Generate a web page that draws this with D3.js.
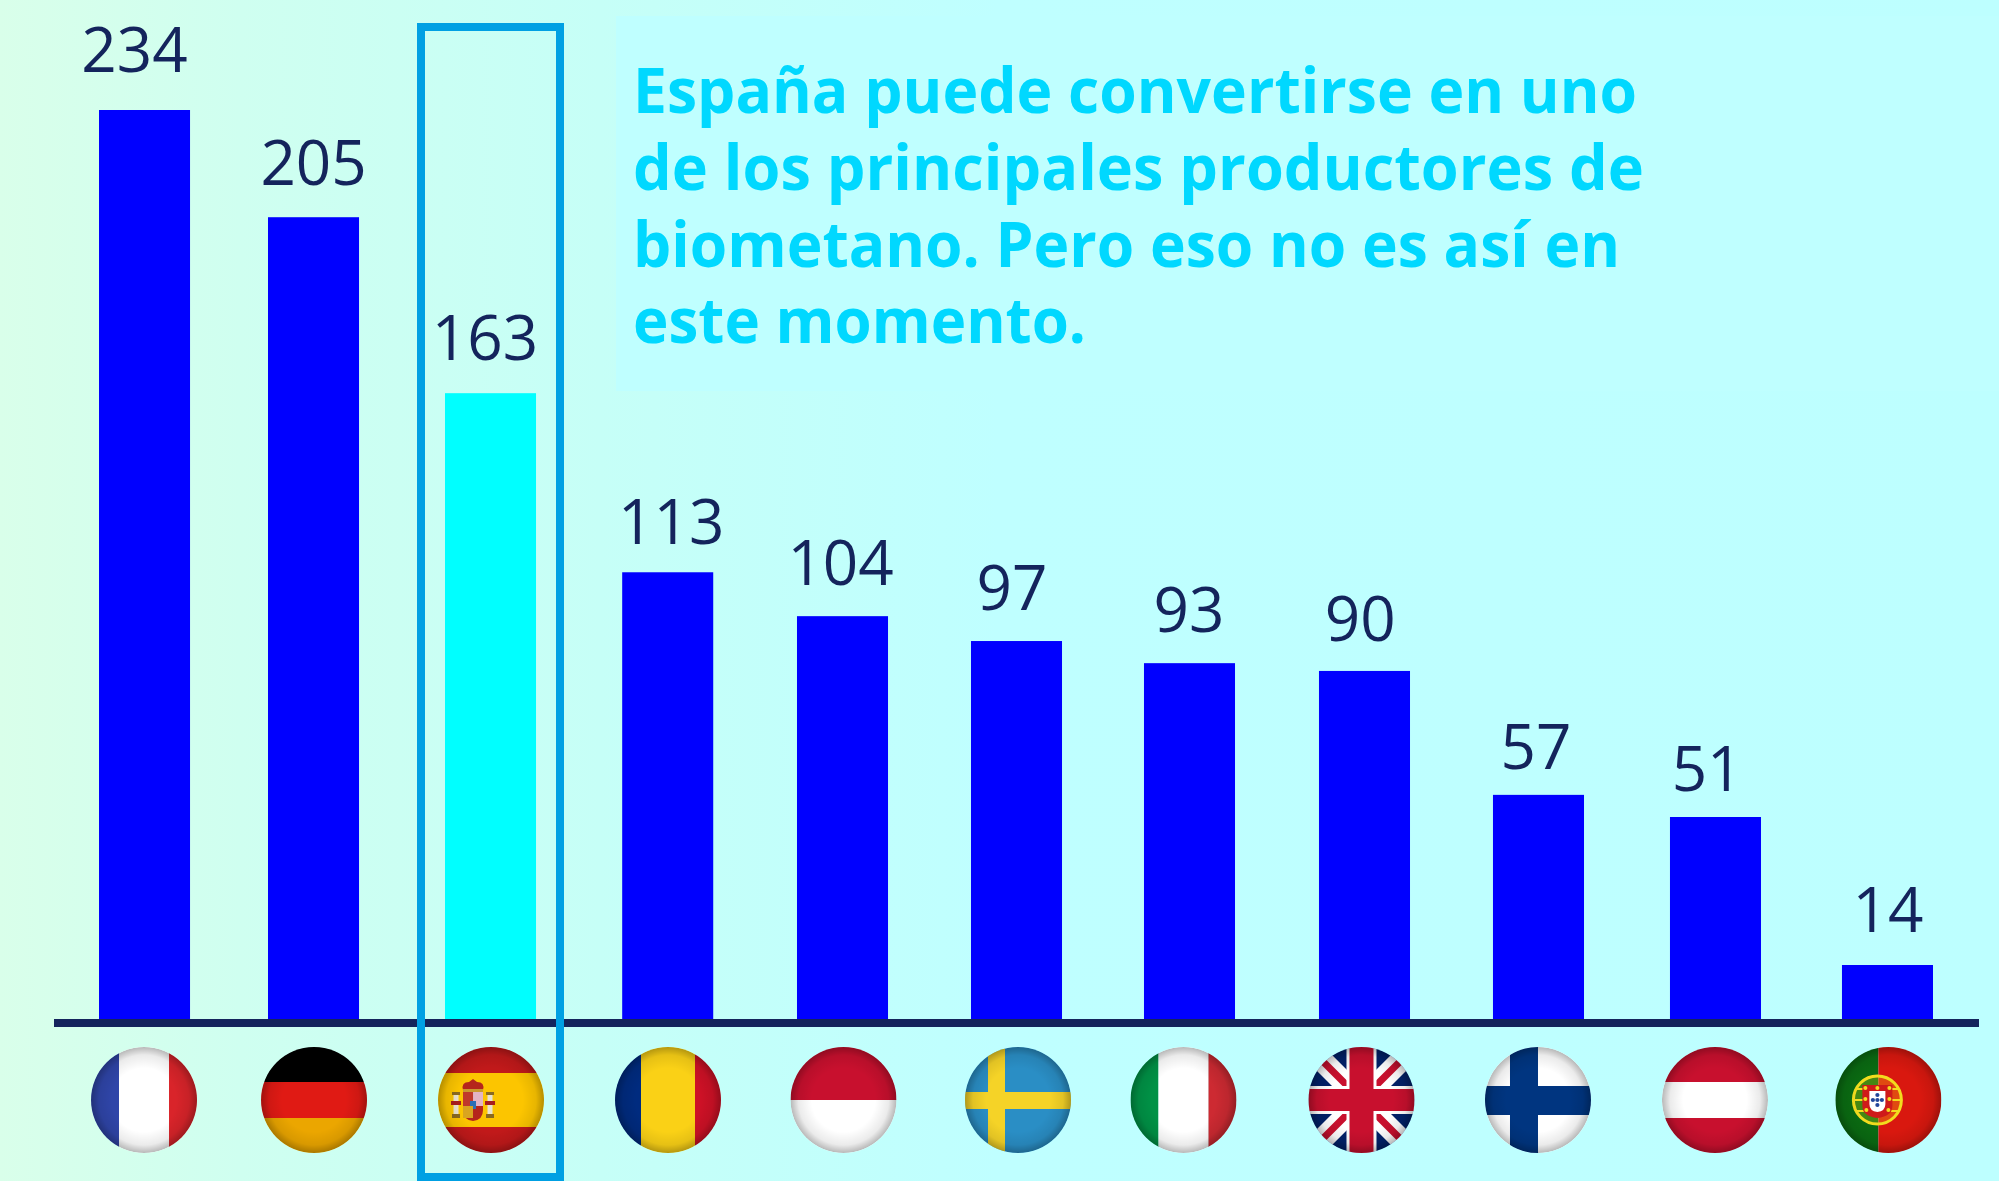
<!DOCTYPE html>
<html lang="es">
<head>
<meta charset="utf-8">
<title>Biometano</title>
<script src="https://cdn.jsdelivr.net/npm/d3@7"></script>
<style>
html,body{margin:0;padding:0;background:#bdffff;overflow:hidden}
svg{display:block}
</style>
</head>
<body>
<script>
// ---- Data ----
const categories = ["Francia","Alemania","España","Rumanía","Indonesia","Suecia","Italia","Reino Unido","Finlandia","Austria","Portugal"];
const flagCodes  = ["fr","de","es","ro","id","se","it","gb","fi","at","pt"];
const labels     = [234,205,163,113,104,97,93,90,57,51,14];
// Bar lengths as measured in the picture, in the same units (the source is hand-laid and differs slightly from its labels)
const barValues  = [234,206.4,161.1,115,103.7,97.3,91.6,89.6,57.7,52,13.9];
const highlighted = "España";
const titleLines = ["España puede convertirse en uno","de los principales productores de","biometano. Pero eso no es así en","este momento."];

// ---- Layout (small hand-placement offsets of the reference) ----
const W = 1999, H = 1181, baseY = 1019;
const barNudge   = [0,-5.4,-2.8,0,0.4,0,-1.4,-0.8,-1.2,1.4,-1];
const labelShift = [-10,-5.3,-8.3,3.5,-1.5,-4.5,-1.9,-5,-3.7,-7,-0.5];
const flagShift  = [-0.5,-4.9,-2.3,0.3,1.4,1.5,-7.4,-3.8,-1.7,0.9,-0.1];
const labelGap   = [38,32,33,28,31,31,31,30,26,26,33];
const titleBase  = [113,190,267,343];
const titleWidth = [1004,1011,987,453];

const navy = "#14245c";
const x = d3.scaleBand().domain(categories).range([99,1934]).paddingInner(0.478).paddingOuter(0);
const y = d3.scaleLinear().domain([0,234]).range([baseY,110]);

const svg = d3.select("body").append("svg").attr("width",W).attr("height",H).attr("viewBox",`0 0 ${W} ${H}`);
const defs = svg.append("defs");

const bg = defs.append("linearGradient").attr("id","bg").attr("gradientUnits","userSpaceOnUse")
  .attr("x1",0).attr("y1",0).attr("x2",W).attr("y2",0);
[[0,"#d9ffea"],[0.12,"#cffff0"],[0.3,"#c6fff7"],[0.5,"#bfffff"],[1,"#bdffff"]].forEach(s=>bg.append("stop").attr("offset",s[0]).attr("stop-color",s[1]));
svg.append("rect").attr("width",W).attr("height",H).attr("fill","url(#bg)");

// text panel
svg.append("rect").attr("x",616).attr("y",16).attr("width",W-616).attr("height",375).attr("fill","#bfffff");
svg.append("g").selectAll("text").data(titleLines).join("text")
  .attr("x",633).attr("y",(d,i)=>titleBase[i])
  .attr("textLength",(d,i)=>titleWidth[i]).attr("lengthAdjust","spacingAndGlyphs")
  .attr("font-family","'Open Sans','Noto Sans',sans-serif").attr("font-weight",700).attr("font-size",63)
  .attr("fill","#00d8ff").text(d=>d);

// bars
svg.append("g").selectAll("rect").data(categories).join("rect")
  .attr("x",(d,i)=>x(d)+barNudge[i]).attr("width",x.bandwidth())
  .attr("y",(d,i)=>y(barValues[i])).attr("height",(d,i)=>y(0)-y(barValues[i]))
  .attr("fill",d=>d===highlighted?"#00ffff":"#0000ff");

// value labels
svg.append("g").selectAll("text").data(categories).join("text")
  .attr("x",(d,i)=>x(d)+x.bandwidth()/2+labelShift[i])
  .attr("y",(d,i)=>y(barValues[i])-labelGap[i])
  .attr("text-anchor","middle").attr("font-family","'Open Sans','Noto Sans',sans-serif")
  .attr("font-size",62).attr("fill",navy).text((d,i)=>labels[i]);

// baseline
svg.append("rect").attr("x",54).attr("y",baseY).attr("width",1925).attr("height",8).attr("fill",navy);

// ---- Flags ----
const R = 53;
defs.append("clipPath").attr("id","flagClip").append("circle").attr("r",R);
const shade = defs.append("radialGradient").attr("id","flagShade");
[[0,0],[0.6,0],[0.85,0.08],[1,0.28]].forEach(s=>shade.append("stop").attr("offset",s[0]).attr("stop-color","#000").attr("stop-opacity",s[1]));

const rect=(g,a,b,c,d,f)=>g.append("rect").attr("x",a).attr("y",b).attr("width",c-a).attr("height",d-b).attr("fill",f);
const vBands=(g,cols,e1,e2)=>{rect(g,-R,-R,e1,R,cols[0]);rect(g,e1,-R,e2,R,cols[1]);rect(g,e2,-R,R,R,cols[2]);};
const hBands=(g,cols,e1,e2)=>{rect(g,-R,-R,R,e1,cols[0]);rect(g,-R,e1,R,e2,cols[1]);rect(g,-R,e2,R,R,cols[2]);};

const painters = {
  fr:g=>vBands(g,["#2f45a8","#ffffff","#d9242a"],-25,25),
  de:g=>hBands(g,["#000000","#e01a14","#eba600"],-18,18),
  ro:g=>vBands(g,["#002b7f","#fad116","#ce1126"],-27,27),
  id:g=>hBands(g,["#c8102e","#ffffff","#ffffff"],0,0),
  it:g=>vBands(g,["#009246","#ffffff","#cd2a32"],-25,25),
  at:g=>hBands(g,["#c8102e","#ffffff","#c8102e"],-18,18),
  se:g=>{rect(g,-R,-R,R,R,"#2a8ec5");rect(g,-30,-R,-13,R,"#f5d327");rect(g,-R,-8,R,9,"#f5d327");},
  fi:g=>{rect(g,-R,-R,R,R,"#ffffff");rect(g,-28,-R,0,R,"#003580");rect(g,-R,-14,R,15,"#003580");},
  gb:g=>{
    rect(g,-R,-R,R,R,"#012169");
    const diag=(w,c)=>{[[-R,-R,R,R],[-R,R,R,-R]].forEach(p=>g.append("line").attr("x1",p[0]).attr("y1",p[1]).attr("x2",p[2]).attr("y2",p[3]).attr("stroke",c).attr("stroke-width",w));};
    diag(22,"#ffffff");diag(7,"#c8102e");
    rect(g,-15,-R,15,R,"#ffffff");rect(g,-R,-14,R,14,"#ffffff");
    rect(g,-12,-R,12,R,"#c8102e");rect(g,-R,-11,R,11,"#c8102e");
  },
  es:g=>{
    hBands(g,["#c1191a","#fcc500","#c1191a"],-27,27);
    const cx=-18;
    // crown
    g.append("path").attr("d",`M${cx-10},-10 Q${cx-12},-18 ${cx-4},-18 L${cx},-21 L${cx+4},-18 Q${cx+12},-18 ${cx+10},-10 Z`).attr("fill","#b5261c");
    rect(g,cx-10,-11,cx+10,-8,"#c99a2e");
    // shield
    g.append("path").attr("d",`M${cx-10},-8 H${cx+10} V10 Q${cx+10},20 ${cx},21 Q${cx-10},20 ${cx-10},10 Z`).attr("fill","#b5261c");
    rect(g,cx,-8,cx+10,6,"#e2b4c4");
    rect(g,cx-10,-8,cx,6,"#c0392b");
    rect(g,cx-3,1,cx+3,9,"#2a6fb5");
    rect(g,cx-10,6,cx,18,"#d9a520");
    // pillars
    [-17,17].forEach(dx=>{
      rect(g,cx+dx-2.5,-6,cx+dx+2.5,15,"#e8e2d0");
      rect(g,cx+dx-4,-8,cx+dx+4,-5,"#8a6a20");
      rect(g,cx+dx-4,14,cx+dx+4,18,"#8a6a20");
      rect(g,cx+dx-5,1,cx+dx+5,5,"#a81d1d");
    });
  },
  pt:g=>{
    rect(g,-R,-R,-10,R,"#0a6b12");rect(g,-10,-R,R,R,"#d9180f");
    const cx=-11;
    g.append("circle").attr("cx",cx).attr("cy",0).attr("r",24).attr("fill","#f7e017").attr("fill-opacity",0.25).attr("stroke","#f2dc1e").attr("stroke-width",3);
    [[-24,0,24,0],[-21,-11,21,-11],[-21,11,21,11]].forEach(p=>g.append("line").attr("x1",cx+p[0]).attr("y1",p[1]).attr("x2",cx+p[2]).attr("y2",p[3]).attr("stroke","#f2dc1e").attr("stroke-width",2));
    g.append("path").attr("d",`M${cx-15},-15 H${cx+15} V6 Q${cx+15},16 ${cx},18 Q${cx-15},16 ${cx-15},6 Z`).attr("fill","#cf1a1a");
    [[-12,-12],[0,-12],[12,-12],[-12,-1],[12,-1],[-11,10],[11,10]].forEach(p=>g.append("circle").attr("cx",cx+p[0]).attr("cy",p[1]).attr("r",2).attr("fill","#f2dc1e"));
    g.append("path").attr("d",`M${cx-8},-9 H${cx+8} V4 Q${cx+8},11 ${cx},12 Q${cx-8},11 ${cx-8},4 Z`).attr("fill","#ffffff");
    [[0,-5],[-4.5,0],[0,0],[4.5,0],[0,5]].forEach(p=>g.append("circle").attr("cx",cx+p[0]).attr("cy",p[1]).attr("r",2.1).attr("fill","#23479a"));
  }
};

svg.append("g").selectAll("g").data(categories).join("g")
  .attr("transform",(d,i)=>`translate(${x(d)+x.bandwidth()/2+flagShift[i]},1100)`)
  .each(function(d,i){
    const g=d3.select(this);
    g.append("title").text(d);
    const inner=g.append("g").attr("clip-path","url(#flagClip)");
    painters[flagCodes[i]](inner);
    inner.append("circle").attr("r",R).attr("fill","url(#flagShade)");
  });

// highlight frame around Spain (runs off the bottom of the picture)
svg.append("rect").attr("x",421).attr("y",27).attr("width",139).attr("height",1150)
  .attr("fill","none").attr("stroke","#00a0e3").attr("stroke-width",8);
</script>
</body>
</html>
